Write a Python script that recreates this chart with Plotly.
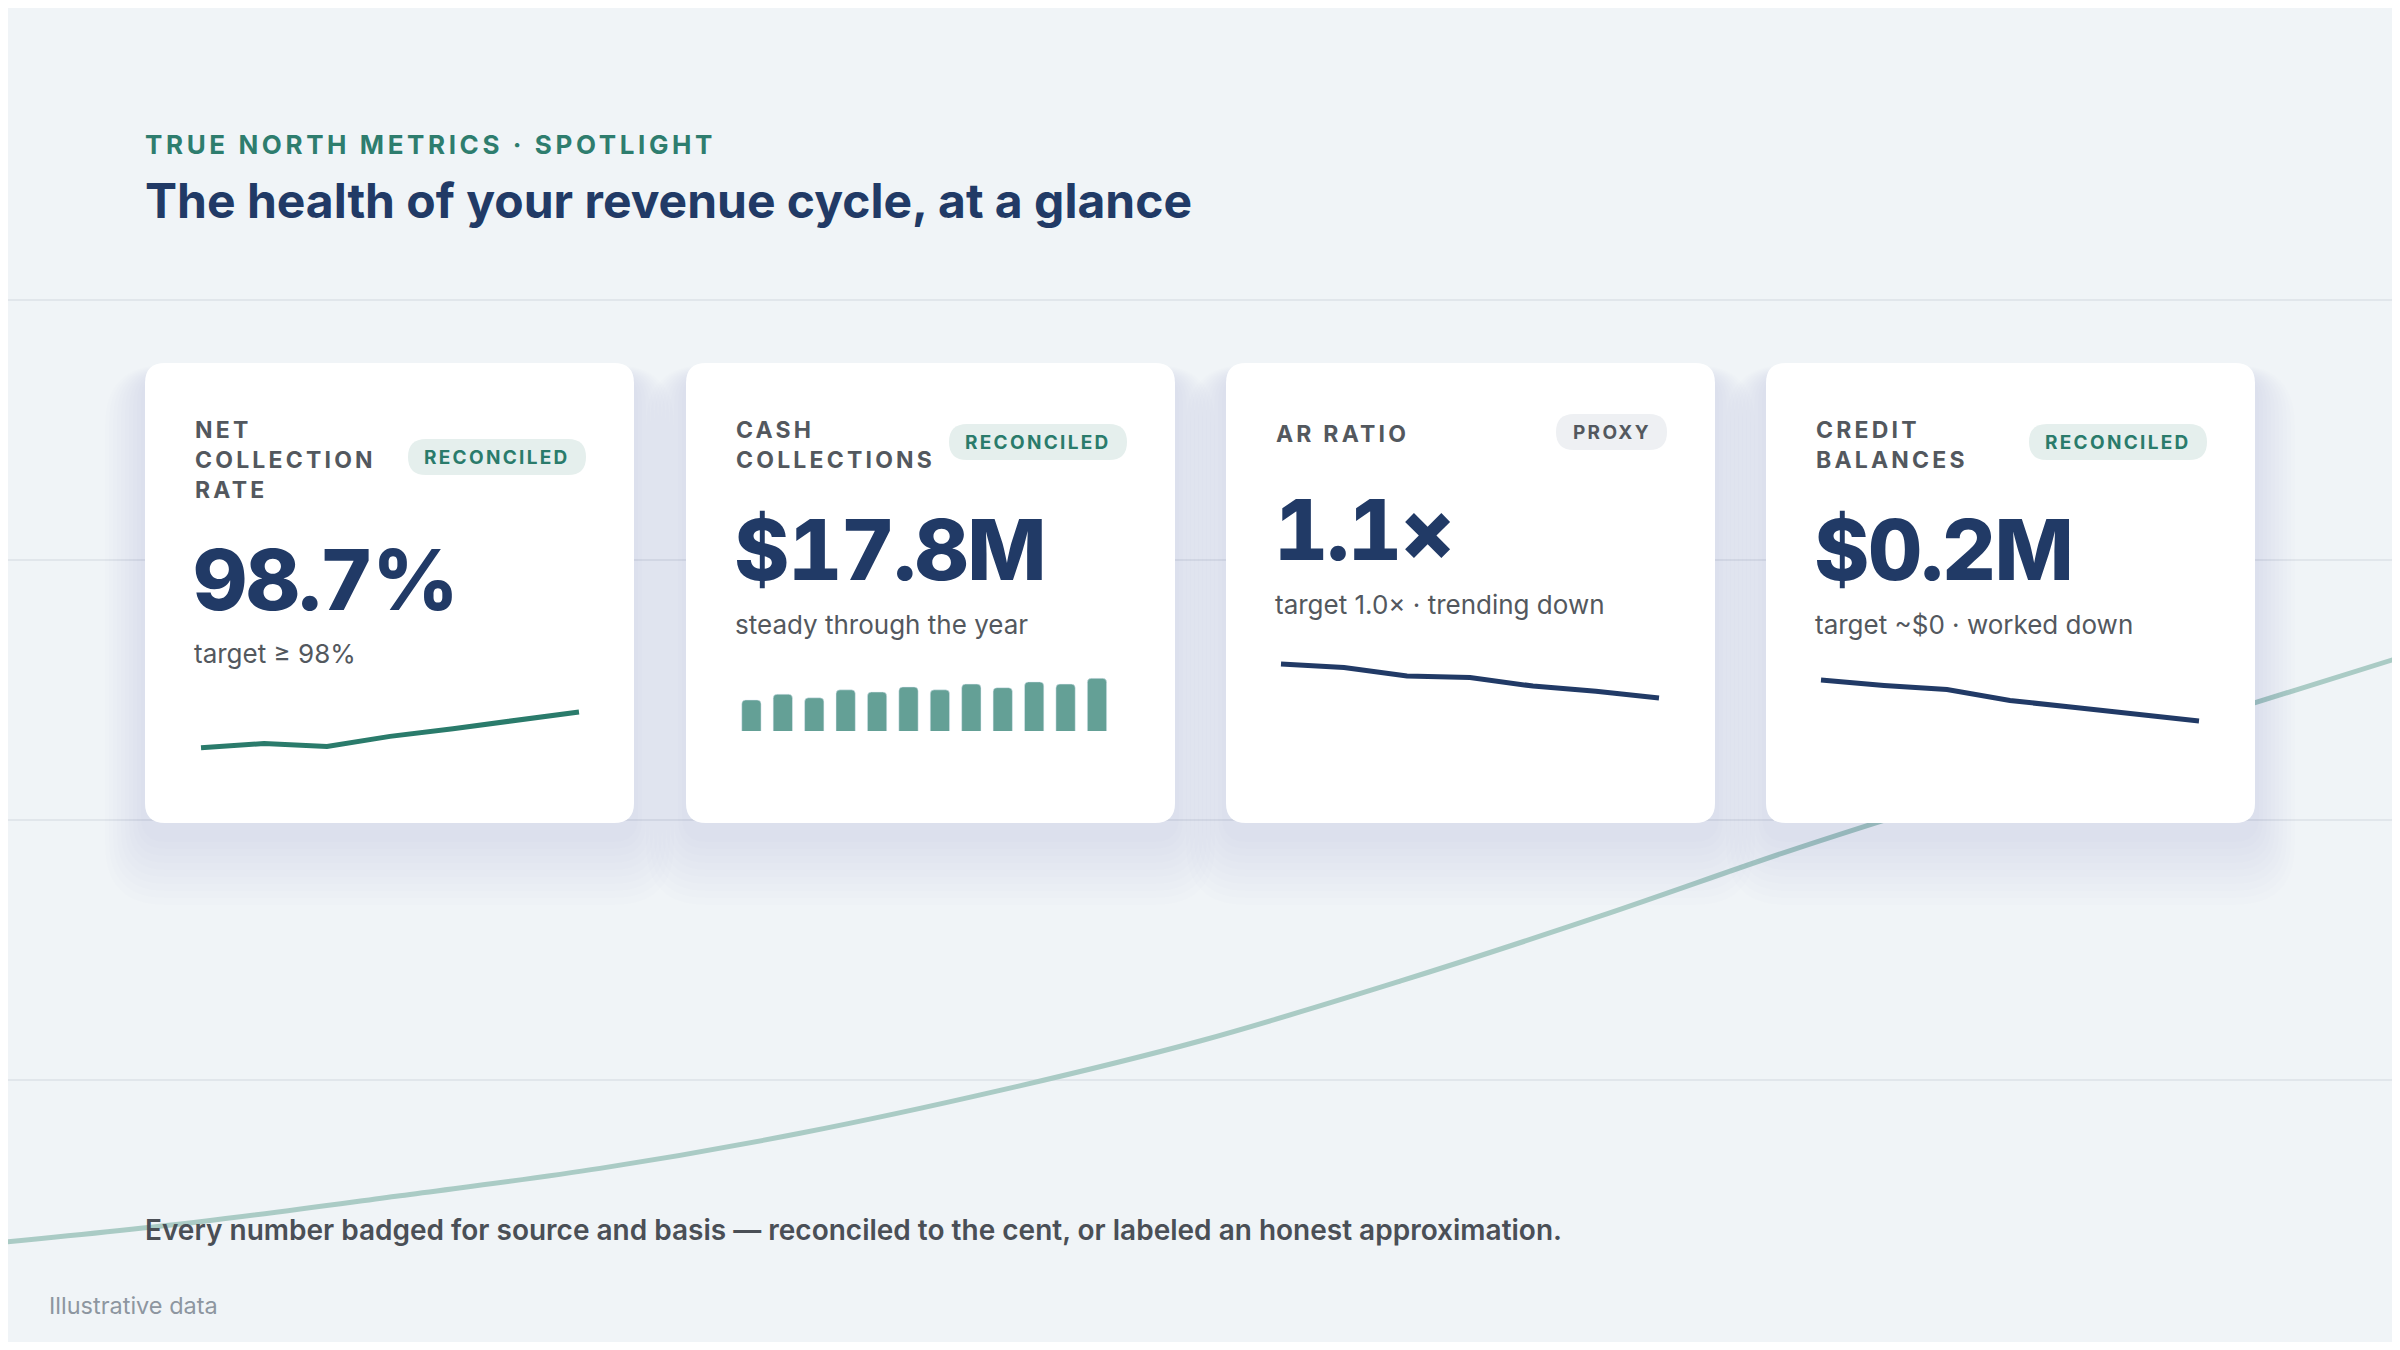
"""True North metrics spotlight - kpi cards."""
import plotly.graph_objects as go

# a pagina tem margem de 8px no body: a figura ocupa o resto
OFF = 8
W, H = 2400 - 2 * OFF, 1350 - 2 * OFF

# linha de fundo decorativa
bg_x = list(range(13))
bg_y = [7.5, 9.1, 11.1, 13.2, 15.9, 19.2, 23.0, 27.6, 32.6, 37.9, 42.8, 47.7, 52.5]

# cards
card_titles = ['NET<br>COLLECTION<br>RATE', 'CASH<br>COLLECTIONS', 'AR RATIO', 'CREDIT<br>BALANCES']
card_values = ['98.7%', '$17.8M', '1.1×', '$0.2M']
card_notes = ['target ≥ 98%', 'steady through the year',
              'target 1.0× · trending down', 'target ~$0 · worked down']
card_badges = ['RECONCILED', 'RECONCILED', 'PROXY', 'RECONCILED']

# sparklines
ncr = [98.10, 98.17, 98.12, 98.29, 98.42, 98.55, 98.70]
cash_months = ['Jan', 'Feb', 'Mar', 'Apr', 'May', 'Jun',
               'Jul', 'Aug', 'Sep', 'Oct', 'Nov', 'Dec']
cash = [1.33, 1.41, 1.36, 1.47, 1.44, 1.51, 1.47, 1.55, 1.50, 1.58, 1.55, 1.63]
ar_ratio = [1.30, 1.28, 1.23, 1.22, 1.17, 1.14, 1.10]
credit = [0.50, 0.46, 0.43, 0.35, 0.30, 0.25, 0.20]

NAVY = '#213a66'
TEAL = '#2a7b6b'
GRAY = '#53585e'
FONT = 'Inter'

# geometria (px da pagina)
card_left = [145, 686, 1226, 1766]
card_top, card_w, card_h = 363, 489, 460
header_cy = [459.6, 444.7, 433.6, 444.7]
badge_cy = [457, 442, 432, 442]
value_cy = [579.5, 549, 529.5, 549]
note_cy = [653, 624, 604, 624]


def dx(p):
    """px da pagina -> fracao do paper."""
    return (p - OFF) / W


def dy(p):
    return 1 - (p - OFF) / H


def rr(x0, y0, x1, y1, r):
    """Path de retangulo arredondado."""
    return (f"M{x0 + r},{y0} L{x1 - r},{y0} Q{x1},{y0} {x1},{y0 + r} "
            f"L{x1},{y1 - r} Q{x1},{y1} {x1 - r},{y1} L{x0 + r},{y1} "
            f"Q{x0},{y1} {x0},{y1 - r} L{x0},{y0 + r} Q{x0},{y0} {x0 + r},{y0} Z")


def yrange(v1, p1, v2, p2, top, bot):
    """Range do eixo y para v1 cair em p1 e v2 em p2 (px)."""
    k = (v2 - v1) / (p1 - p2)
    return [v1 - (bot - p1) * k, v1 + (p1 - top) * k]


def spaced(txt, ls, extra=''):
    return f'<span style="letter-spacing:{ls}px;{extra}">{txt}</span>'


fig = go.Figure()

# fundo
fig.add_trace(go.Scatter(x=bg_x, y=bg_y, mode='lines', line=dict(color='#aacbc5', width=5, shape='spline'),
                         hoverinfo='skip', showlegend=False))
# canvas em px para os cards
fig.add_trace(go.Scatter(x=[None], y=[None], xaxis='x2', yaxis='y2', showlegend=False, hoverinfo='skip'))

line_sparks = {0: (ncr, TEAL, 201, 579, (98.10, 747.7), (98.70, 712)),
               2: (ar_ratio, NAVY, 1281, 1659, (1.30, 664), (1.10, 698)),
               3: (credit, NAVY, 1821, 2199, (0.50, 680), (0.20, 721))}

layout = dict(
    width=W, height=H, margin=dict(l=0, r=0, t=0, b=0, pad=0),
    paper_bgcolor='#f0f4f7', plot_bgcolor='rgba(0,0,0,0)', showlegend=False,
    xaxis=dict(domain=[0, 1], range=[OFF / 200, (2400 - OFF) / 200], visible=False),
    yaxis=dict(domain=[0, 1], range=[20 - (1350 - OFF - 1080) / 13, 20 + (1080 - OFF) / 13],
               tickvals=[20, 40, 60, 80], showticklabels=False,
               showgrid=True, gridcolor='#e1e6eb', gridwidth=2, zeroline=False, showline=False),
    xaxis2=dict(domain=[0, 1], range=[OFF, OFF + W], visible=False, anchor='y2'),
    yaxis2=dict(domain=[0, 1], range=[OFF + H, OFF], visible=False, anchor='x2'),
    bargap=0.385,
)

ax = 3
for i, (vals, color, x0, x1, r1, r2) in line_sparks.items():
    top = min(r1[1], r2[1]) - 20
    bot = max(r1[1], r2[1]) + 20
    ppu = (x1 - x0) / (len(vals) - 1)
    pad = 6
    fig.add_trace(go.Scatter(x=list(range(len(vals))), y=vals, mode='lines',
                             line=dict(color=color, width=5), xaxis=f'x{ax}', yaxis=f'y{ax}',
                             hoverinfo='skip'))
    layout[f'xaxis{ax}'] = dict(domain=[dx(x0 - pad), dx(x1 + pad)], anchor=f'y{ax}', visible=False,
                                range=[-pad / ppu, len(vals) - 1 + pad / ppu])
    layout[f'yaxis{ax}'] = dict(domain=[dy(bot), dy(top)], anchor=f'x{ax}', visible=False,
                                range=yrange(r1[0], r1[1], r2[0], r2[1], top, bot))
    ax += 1

# barras de caixa
fig.add_trace(go.Bar(x=cash_months, y=cash, marker=dict(color='#64a096', cornerradius=4),
                     xaxis=f'x{ax}', yaxis=f'y{ax}', hoverinfo='skip'))
layout[f'xaxis{ax}'] = dict(domain=[dx(735.7), dx(1112.7)], anchor=f'y{ax}', visible=False,
                            range=[-0.5, 11.5])
layout[f'yaxis{ax}'] = dict(domain=[dy(731), dy(670)], anchor=f'x{ax}', visible=False,
                            range=yrange(0.9, 731, 1.63, 678.3, 670, 731))

shapes = []
annotations = []

# sombras
for left in card_left:
    for s in range(1, 11):
        g = s * 4
        off_y = 12 + s * 3
        shapes.append(dict(type='path', xref='x2', yref='y2', layer='below',
                           path=rr(left - g, card_top - g + off_y, left + card_w + g,
                                   card_top + card_h + g + off_y, 20 + g),
                           fillcolor='rgba(40,52,68,0.008)', line=dict(width=0)))

for i, left in enumerate(card_left):
    right = left + card_w
    shapes.append(dict(type='path', xref='x2', yref='y2', layer='below',
                       path=rr(left, card_top, right, card_top + card_h, 20),
                       fillcolor='#ffffff', line=dict(width=0)))
    proxy = card_badges[i] == 'PROXY'
    bw = 111 if proxy else 178
    bx1 = right - 48
    shapes.append(dict(type='path', xref='x2', yref='y2', layer='below',
                       path=rr(bx1 - bw, badge_cy[i] - 18, bx1, badge_cy[i] + 18, 18),
                       fillcolor='#eef0f3' if proxy else '#e5efed', line=dict(width=0)))
    annotations.append(dict(x=bx1 - bw / 2, y=badge_cy[i], xref='x2', yref='y2', showarrow=False,
                            xanchor='center', yanchor='middle', text=spaced(card_badges[i], 2.3),
                            font=dict(family=FONT, size=19, weight=700, color=GRAY if proxy else TEAL)))
    annotations.append(dict(x=left + 48, y=header_cy[i], xref='x2', yref='y2', showarrow=False,
                            xanchor='left', yanchor='middle', align='left',
                            text='<br>'.join(spaced(t, 3.2) for t in card_titles[i].split('<br>')),
                            font=dict(family=FONT, size=23, weight=700, color=GRAY)))
    annotations.append(dict(x=left + 46, y=value_cy[i], xref='x2', yref='y2', showarrow=False,
                            xanchor='left', yanchor='middle',
                            text=spaced(card_values[i], -1.5, 'font-variant-numeric:tabular-nums'),
                            font=dict(family=FONT, size=84, weight=800, color=NAVY)))
    annotations.append(dict(x=left + 47, y=note_cy[i], xref='x2', yref='y2', showarrow=False,
                            xanchor='left', yanchor='middle', text=card_notes[i],
                            font=dict(family=FONT, size=26, weight=400, color=GRAY)))

# cabecalho e rodape
annotations += [
    dict(x=143, y=144.5, xref='x2', yref='y2', showarrow=False, xanchor='left', yanchor='middle',
         text=spaced('TRUE NORTH METRICS · SPOTLIGHT', 3.6),
         font=dict(family=FONT, size=26, weight=700, color='#2e7d6e')),
    dict(x=143, y=200, xref='x2', yref='y2', showarrow=False, xanchor='left', yanchor='middle',
         text='The health of your revenue cycle, at a glance',
         font=dict(family=FONT, size=48, weight=700, color=NAVY)),
    dict(x=143, y=1230, xref='x2', yref='y2', showarrow=False, xanchor='left', yanchor='middle',
         text='Every number badged for source and basis — reconciled to the cent, or labeled an honest approximation.',
         font=dict(family=FONT, size=28, weight=600, color='#4a4f56')),
    dict(x=47, y=1305, xref='x2', yref='y2', showarrow=False, xanchor='left', yanchor='middle',
         text='Illustrative data', font=dict(family=FONT, size=23.5, weight=400, color='#8d96a0')),
]

layout['shapes'] = shapes
layout['annotations'] = annotations
fig.update_layout(**layout)

fig.write_html("out.html")
